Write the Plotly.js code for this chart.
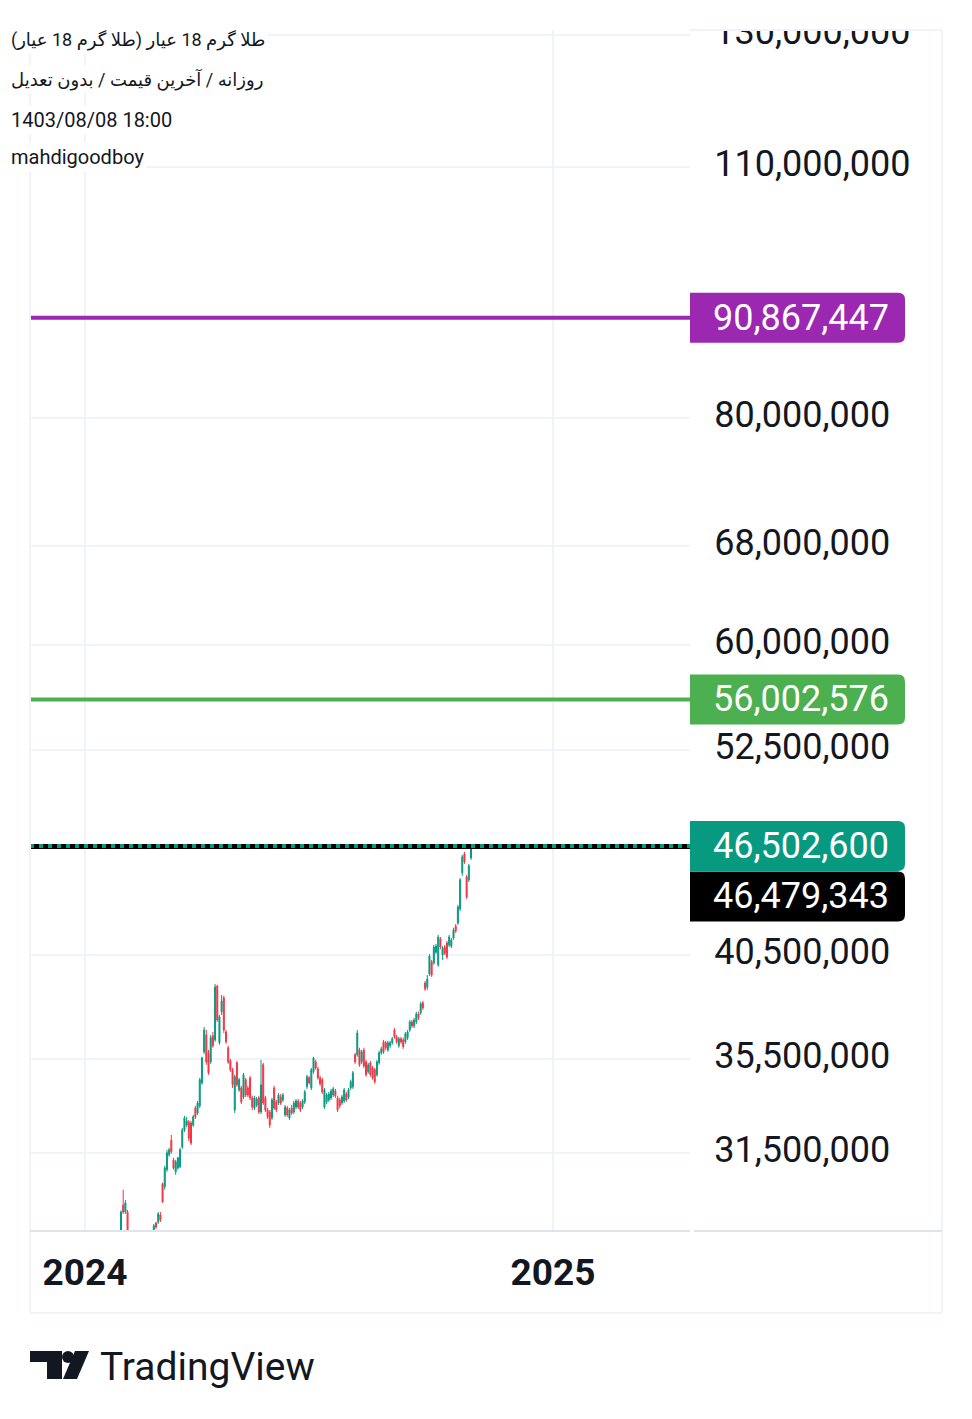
<!DOCTYPE html>
<html><head><meta charset="utf-8">
<script src="https://cdn.plot.ly/plotly-3.0.1.min.js"></script>
<style>html,body{margin:0;padding:0;background:#fff;}#chart{width:972px;height:1419px;}</style>
</head><body><div id="chart"></div>
<script>
// Daily candles (values in millions of rials), oldest first
const openP = [28.22,29.50,29.24,29.24,28.04,27.85,28.00,27.95,27.70,27.60,27.80,27.75,27.90,28.05,28.15,28.40,28.84,28.87,29.13,30.31,
30.19,30.85,31.44,32.03,31.24,30.77,30.92,30.96,31.75,32.44,32.65,32.77,32.73,32.65,33.36,33.15,33.45,34.44,35.82,36.60,
35.78,35.37,36.56,36.37,38.94,36.24,37.69,38.36,36.74,36.01,35.42,35.02,33.28,35.33,34.13,34.22,33.83,34.58,34.22,34.66,
33.79,33.36,33.49,33.79,33.19,35.24,33.79,33.28,33.19,32.94,34.22,33.62,33.57,33.83,33.70,33.07,33.36,32.94,33.36,33.19,
33.40,33.66,33.57,33.40,33.62,34.27,34.66,34.22,34.93,35.37,35.06,34.66,34.58,33.40,33.62,33.70,33.79,33.92,34.09,33.79,
33.70,33.57,33.66,33.96,33.83,34.22,34.27,35.69,35.69,35.91,35.37,35.91,35.37,34.93,35.33,35.10,35.02,34.80,35.33,35.78,
36.28,36.24,35.91,36.10,36.24,36.83,36.51,36.10,36.42,36.37,36.28,36.47,36.83,37.21,37.02,37.21,37.59,37.64,38.12,39.09,
38.89,39.54,40.15,40.10,40.65,40.00,41.34,40.50,40.91,41.13,41.02,40.96,41.39,42.02,42.18,42.94,44.95,46.04,44.72,44.55,45.81];
const highP = [29.30,30.08,29.69,29.32,28.20,28.10,28.30,28.15,27.90,27.95,28.05,28.00,28.20,28.30,28.40,28.80,28.87,29.24,29.24,30.35,
31.00,31.64,31.72,32.24,31.32,31.24,31.36,31.72,32.53,33.03,32.99,32.86,32.82,33.07,33.45,33.66,34.66,35.60,36.97,36.83,
35.91,36.60,36.74,39.04,38.99,37.54,38.50,38.46,36.83,36.10,35.51,35.10,34.80,35.42,34.66,34.31,34.88,34.66,34.31,34.75,
33.88,33.88,33.83,33.88,35.46,35.33,33.88,33.36,33.28,33.79,34.31,33.70,34.00,33.96,34.00,33.49,33.45,33.36,33.49,33.66,
33.74,33.74,33.66,33.74,34.13,34.80,34.75,35.10,35.60,35.46,35.15,34.75,34.66,34.22,34.00,34.05,34.18,34.27,34.18,33.88,
33.79,33.92,34.22,34.05,34.22,34.58,34.97,35.78,36.83,36.01,35.91,36.01,35.46,35.33,35.42,35.19,35.10,35.46,35.87,36.06,
36.37,36.33,36.33,36.33,36.51,36.92,36.60,36.51,36.51,36.47,36.74,36.83,37.30,37.30,37.40,37.69,37.69,38.17,38.21,39.19,
39.49,40.55,40.25,41.02,41.07,41.55,41.44,40.96,41.02,41.23,41.55,41.39,41.92,42.13,43.16,44.66,45.98,46.16,44.83,45.46,46.5026];
const lowP = [28.04,29.17,29.17,27.86,27.70,27.60,27.80,27.55,27.40,27.45,27.60,27.50,27.70,27.85,27.95,28.30,28.62,28.80,28.87,29.58,
30.08,30.77,31.36,31.48,30.85,30.65,30.85,30.92,31.68,32.36,32.57,31.99,31.83,32.57,32.90,33.07,33.36,34.36,35.73,35.24,
34.80,35.28,36.01,36.28,37.21,36.15,37.54,36.69,36.19,35.28,34.93,34.22,33.15,34.27,34.05,33.53,33.74,33.83,33.83,33.70,
33.28,33.28,33.40,33.11,33.11,33.49,33.19,32.90,32.53,32.86,33.28,33.19,33.49,33.49,33.62,32.99,32.99,32.86,33.07,33.11,
33.32,33.32,33.19,33.32,33.53,34.18,34.36,34.13,34.84,35.02,34.58,34.31,33.96,33.32,33.53,33.62,33.70,33.83,33.79,33.19,
33.36,33.49,33.57,33.62,33.74,34.13,34.18,35.28,35.60,35.15,35.28,35.10,34.71,34.84,34.71,34.58,34.40,34.71,35.24,35.69,
35.73,35.91,35.82,36.01,36.15,36.42,36.19,36.01,36.19,35.96,36.19,36.37,36.74,36.92,36.92,37.11,37.30,37.54,37.78,38.70,
38.75,39.44,39.39,40.00,40.55,39.90,40.81,40.25,40.50,40.30,40.91,40.86,41.28,41.65,42.08,42.83,44.78,45.46,43.49,44.43,45.69];
const closeP = [29.24,29.24,29.58,28.04,27.85,28.00,27.95,27.70,27.60,27.80,27.75,27.90,28.05,28.15,28.30,28.73,28.69,29.17,28.95,29.62,
30.92,31.52,31.64,31.56,30.92,31.16,31.32,31.64,32.44,32.94,32.82,32.11,31.91,32.99,32.99,33.57,34.58,35.55,36.83,35.37,
34.88,36.47,36.10,38.89,37.30,37.45,38.21,36.83,36.28,35.37,35.02,34.36,34.71,34.36,34.58,33.62,34.80,33.92,33.92,33.79,
33.40,33.79,33.74,33.19,34.36,33.57,33.28,32.99,32.65,33.70,33.36,33.28,33.92,33.57,33.92,33.40,33.07,33.28,33.15,33.57,
33.66,33.40,33.28,33.66,34.05,34.71,34.44,35.02,35.55,35.10,34.66,34.40,34.05,34.13,33.92,33.96,34.09,34.18,33.88,33.28,
33.45,33.83,34.13,33.70,34.13,34.49,34.88,35.37,36.69,35.24,35.82,35.19,34.80,35.24,34.80,34.66,34.49,35.37,35.78,35.96,
35.82,36.01,36.24,36.24,36.42,36.51,36.28,36.42,36.28,36.06,36.65,36.74,37.21,37.02,37.30,37.59,37.40,38.07,37.88,38.80,
39.29,40.45,39.49,40.91,40.96,41.44,40.91,40.86,40.60,40.40,41.44,41.28,41.81,41.76,43.05,44.55,45.87,45.58,43.60,45.35,46.479343];

// Axis ticks
const priceTickValues = [31.5, 35.5, 40.5, 52.5, 60, 68, 80, 110, 130];
const priceTickLabels = ['31,500,000','35,500,000','40,500,000','52,500,000','60,000,000','68,000,000','80,000,000','110,000,000','130,000,000'];
const yearLabels = ['2024', '2025'];
const yearBarIndex = [-16.46, 197.5];

// Horizontal price levels
const levelValues = [90.867447, 56.002576];
const levelLabels = ['90,867,447', '56,002,576'];
const levelColors = ['#9c27b0', '#4caf50'];
const lastPrice = 46.5026;
const lastPriceLabel = '46,502,600';
const prevMark = 46.479343;
const prevMarkLabel = '46,479,343';

// Header texts
const headerLines = ['طلا گرم 18 عیار (طلا گرم 18 عیار)\u200F', 'روزانه / آخرین قیمت / بدون تعدیل\u200F', '1403/08/08 18:00', 'mahdigoodboy'];
const headerSizes = [18, 18, 20, 20];

const barIdx = openP.map((_, i) => i);
const xRange = [-41.6, 260.1];
const yRange = [Math.log10(28.58), Math.log10(130.86)];

// pixel -> paper helpers (plot area: x 30..690, y 30..1230)
const px = x => (x - 30) / 660;
const py = y => (1230 - y) / 1200;

const traces = [
  {type:'candlestick', x: barIdx, open: openP, high: highP, low: lowP, close: closeP,
   increasing:{line:{color:'#089981', width:1}, fillcolor:'#089981'},
   decreasing:{line:{color:'#f23645', width:1}, fillcolor:'#f23645'},
   whiskerwidth:0, hoverinfo:'skip', showlegend:false}
];
levelValues.forEach((v, k) => traces.push({type:'scatter', mode:'lines', x: xRange, y:[v, v],
  line:{color: levelColors[k], width:4}, hoverinfo:'skip', showlegend:false}));
traces.push({type:'scatter', mode:'lines', x: xRange, y:[prevMark, prevMark], line:{color:'#000', width:5}, hoverinfo:'skip', showlegend:false});
traces.push({type:'scatter', mode:'lines', x: xRange, y:[lastPrice, lastPrice], line:{color:'#089981', width:4, dash:'4px,5px'}, hoverinfo:'skip', showlegend:false});

function boxPath(w, h, r, dy) {
  const t = dy + h/2, b = dy - h/2;
  return `M 0,${t} L ${w-r},${t} Q ${w},${t} ${w},${t-r} L ${w},${b+r} Q ${w},${b} ${w-r},${b} L 0,${b} Z`;
}

const shapes = [];
// white cover above plot top on price scale (clips the top label)
shapes.push({type:'rect', xref:'paper', yref:'paper', x0:px(690), x1:px(972), y0:py(30), y1:py(0), fillcolor:'#fff', line:{width:0}, layer:'above'});
// borders
const borderColor = '#e0e3eb';
const frameColor = '#f0f3fa';
shapes.push({type:'line', xref:'paper', yref:'paper', x0:px(690), x1:px(942), y0:py(30), y1:py(30), line:{color:frameColor, width:2}, layer:'above'});
shapes.push({type:'line', xref:'paper', yref:'paper', x0:px(942), x1:px(942), y0:py(30), y1:py(1313), line:{color:frameColor, width:2}, layer:'above'});
shapes.push({type:'line', xref:'paper', yref:'paper', x0:px(30), x1:px(30), y0:py(30), y1:py(1313), line:{color:frameColor, width:2}, layer:'above'});
shapes.push({type:'line', xref:'paper', yref:'paper', x0:px(30), x1:px(942), y0:py(1313), y1:py(1313), line:{color:frameColor, width:2}, layer:'above'});
shapes.push({type:'line', xref:'paper', yref:'paper', x0:px(30), x1:px(690), y0:py(1231), y1:py(1231), line:{color:borderColor, width:2}, layer:'above'});
shapes.push({type:'line', xref:'paper', yref:'paper', x0:px(694), x1:px(942), y0:py(1231), y1:py(1231), line:{color:borderColor, width:2}, layer:'above'});

// price label boxes
const boxes = [
  {v: levelValues[0], c: levelColors[0], dy: 0, t: levelLabels[0]},
  {v: levelValues[1], c: levelColors[1], dy: 0, t: levelLabels[1]},
  {v: lastPrice, c:'#089981', dy: 0, t: lastPriceLabel},
  {v: prevMark, c:'#000000', dy: -50, t: prevMarkLabel},
];
boxes.forEach(b => shapes.push({type:'path', xref:'paper', xsizemode:'pixel', xanchor:1,
  yref:'y', ysizemode:'pixel', yanchor: b.v, path: boxPath(215, 50, 7, b.dy),
  fillcolor:b.c, line:{width:0}, layer:'above'}));

// TradingView logo mark
shapes.push({type:'path', xref:'paper', yref:'paper', fillcolor:'#131722', line:{width:0}, layer:'above',
  path:`M ${px(30)},${py(1351)} L ${px(62)},${py(1351)} L ${px(62)},${py(1379)} L ${px(47)},${py(1379)} L ${px(47)},${py(1362)} L ${px(30)},${py(1362)} Z`});
shapes.push({type:'circle', xref:'paper', yref:'paper', fillcolor:'#131722', line:{width:0}, layer:'above',
  x0:px(62), x1:px(74), y0:py(1351), y1:py(1363)});
shapes.push({type:'path', xref:'paper', yref:'paper', fillcolor:'#131722', line:{width:0}, layer:'above',
  path:`M ${px(75)},${py(1351)} L ${px(89)},${py(1351)} L ${px(77)},${py(1379)} L ${px(63)},${py(1379)} Z`});

const annotations = [];
const headerY = [40, 80, 120, 157];
headerLines.forEach((t, k) => annotations.push({xref:'paper', yref:'paper', x:px(8), y:py(headerY[k]), xanchor:'left', yanchor:'middle',
  text:t, showarrow:false, bgcolor:'#ffffff', borderpad:2,
  font:{family:'Roboto, "DejaVu Sans", sans-serif', size:headerSizes[k], color:'#131722'}}));
// annotations on a log axis are positioned in log10 units
boxes.forEach(b => annotations.push({xref:'paper', yref:'y', x:1, y:Math.log10(b.v), xanchor:'left', yanchor:'middle', xshift:21, yshift:b.dy,
  text:b.t, showarrow:false, font:{family:'Roboto, sans-serif', size:36, color:'#ffffff'}}));
annotations.push({xref:'paper', yref:'paper', x:px(98), y:py(1367), xanchor:'left', yanchor:'middle', text:'TradingView', showarrow:false,
  font:{family:'Roboto, sans-serif', size:39, color:'#131722'}});

const layout = {
  width:972, height:1419, margin:{l:30, r:282, t:30, b:189, pad:0},
  paper_bgcolor:'#ffffff', plot_bgcolor:'#ffffff', showlegend:false, dragmode:false,
  boxgap:0.35,
  xaxis:{range:xRange, tickmode:'array', tickvals:yearBarIndex, ticktext:yearLabels, showgrid:true, gridcolor:frameColor, gridwidth:2,
    zeroline:false, showline:false, ticks:'outside', ticklen:10, tickcolor:'rgba(0,0,0,0)', automargin:false,
    tickfont:{family:'Roboto, sans-serif', size:37, color:'#131722', weight:'bold'},
    rangeslider:{visible:false}, fixedrange:true},
  yaxis:{type:'log', side:'right', range:yRange, tickmode:'array', tickvals:priceTickValues, ticktext:priceTickLabels,
    showgrid:true, gridcolor:frameColor, gridwidth:2, zeroline:false, showline:false, ticks:'outside', ticklen:16,
    ticklabelshift:-4, tickcolor:'rgba(0,0,0,0)', automargin:false, fixedrange:true,
    tickfont:{family:'Roboto, sans-serif', size:36, color:'#131722'}},
  shapes:shapes, annotations:annotations
};
Plotly.newPlot('chart', traces, layout, {staticPlot:true, displayModeBar:false});
</script></body></html>
